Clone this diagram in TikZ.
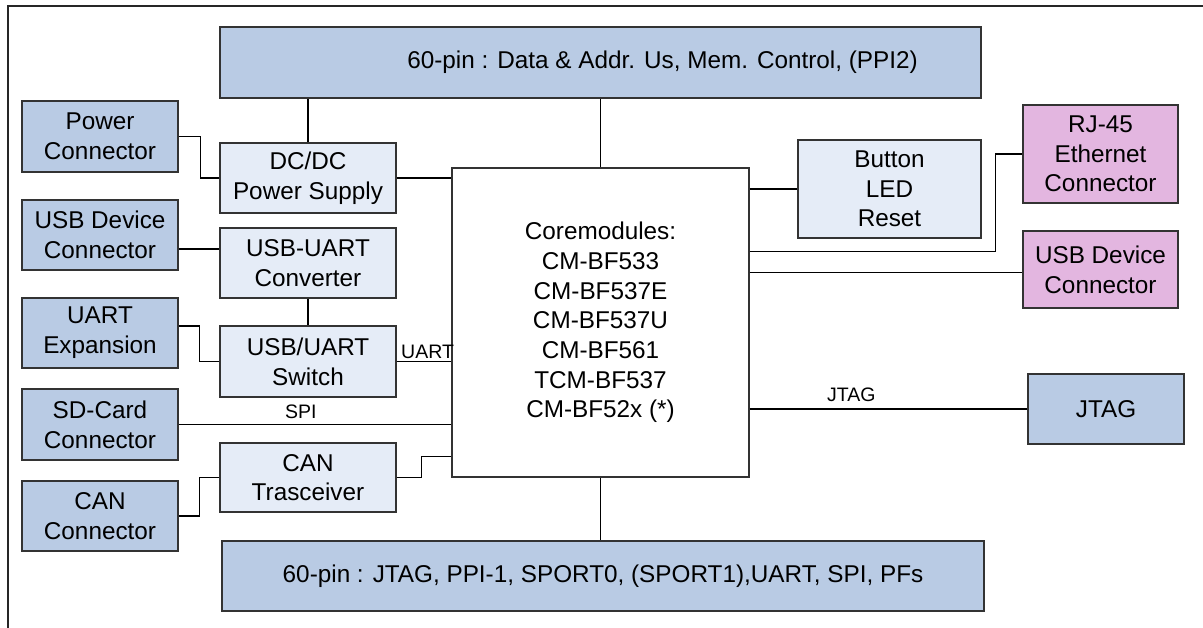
\documentclass[tikz,border=0pt]{standalone}
\usepackage{fontspec}
\setmainfont{Liberation Sans}
\usetikzlibrary{calc}
\definecolor{bluefill}{HTML}{B9CBE4}
\definecolor{lightfill}{HTML}{E5ECF7}
\definecolor{pinkfill}{HTML}{E3B6E0}
\definecolor{boxline}{HTML}{333333}
\begin{document}
\begin{tikzpicture}[x=1pt,y=-1pt,
  box/.style={draw=boxline,line width=1.3pt,rectangle,inner sep=0pt,align=center,
    font=\fontsize{24.3}{29.7}\selectfont},
  bluebox/.style={box,fill=bluefill},
  lightbox/.style={box,fill=lightfill},
  pinkbox/.style={box,fill=pinkfill},
  corebox/.style={box,fill=white},
  wire/.style={draw=black,line width=1.6pt},
  small/.style={inner sep=0pt,font=\fontsize{19.5}{23}\selectfont}]
\useasboundingbox (0,0) rectangle (1203,628);
\draw[line width=1.5pt,draw=black!85] (8,628) -- (8,6) -- (1203,6);

\node[bluebox,minimum width=761pt,minimum height=71pt,
  label={[box,draw=none,fill=none,xshift=62pt]center:60-pin : Data \& Addr. Us, Mem. Control, (PPI2)}]
  (top) at (600.5,62.5) {};
\node[bluebox,minimum width=762pt,minimum height=70pt] (bot) at (603,576)
  {60-pin : JTAG, PPI-1, SPORT0, (SPORT1),UART, SPI, PFs};

\node[corebox,minimum width=297pt,minimum height=309pt] (core) at (600.5,322.5)
  {Coremodules:\\CM-BF533\\CM-BF537E\\CM-BF537U\\CM-BF561\\TCM-BF537\\CM-BF52x (*)};

\node[bluebox,minimum width=156pt,minimum height=71pt] (pwr) at (100,136.5) {Power\\Connector};
\node[lightbox,minimum width=176pt,minimum height=70pt] (dcdc) at (308,178) {DC/DC\\Power Supply};
\node[bluebox,minimum width=156pt,minimum height=70pt] (usbl) at (100,235) {USB Device\\Connector};
\node[lightbox,minimum width=176pt,minimum height=70pt] (conv) at (308,263) {USB-UART\\Converter};
\node[bluebox,minimum width=156pt,minimum height=70pt] (uartx) at (100,333) {UART\\Expansion};
\node[lightbox,minimum width=176pt,minimum height=71pt] (sw) at (308,361.5) {USB/UART\\Switch};
\node[bluebox,minimum width=156pt,minimum height=71pt] (sd) at (100,424.5) {SD-Card\\Connector};
\node[lightbox,minimum width=176pt,minimum height=69pt] (cant) at (308,477.5) {CAN\\Trasceiver};
\node[bluebox,minimum width=156pt,minimum height=70pt] (canc) at (100,516) {CAN\\Connector};

\node[lightbox,minimum width=183pt,minimum height=98pt] (btn) at (889.5,189) {Button\\LED\\Reset};
\node[pinkbox,minimum width=155pt,minimum height=98pt] (rj) at (1100.5,154) {RJ-45\\Ethernet\\Connector};
\node[pinkbox,minimum width=155pt,minimum height=77pt] (usbr) at (1100.5,269.5) {USB Device\\Connector};
\node[bluebox,minimum width=156pt,minimum height=70pt] (jtag) at (1106,409) {JTAG};

% vertical bus links
\draw[wire] (core.north) -- (core.north |- top.south);
\draw[wire] (core.south -| core.north) -- (core.north |- bot.north);
\draw[wire] (dcdc.north) -- (dcdc.north |- top.south);

% left side
\draw[wire] (dcdc.east) -- (dcdc.east -| core.west);
\draw[wire] (pwr.east) -- ++(22,0) |- (dcdc.west);
\coordinate (m1) at ($(usbl.east)!0.5!(conv.west)$);
\draw[wire] (m1 -| usbl.east) -- (m1 -| conv.west);
\draw[wire] (conv.south) -- (sw.north);
\draw[wire] ([yshift=7pt]uartx.east) -- ++(21,0) |- (sw.west);
\draw[wire] (sw.east) -- (sw.east -| core.west);
\node[small,anchor=base west] (luart) at (401,359) {UART};
\draw[wire] (sd.east) -- (sd.east -| core.west);
\node[small,anchor=base west] (lspi) at (285,418) {SPI};
\draw[wire] (cant.east) -- ++(25,0) |- ([yshift=21pt]core.south west);
\draw[wire] (canc.east) -- ++(21,0) |- (cant.west);

% right side
\draw[wire] (btn.west -| core.east) -- (btn.west);
\draw[wire] ([yshift=-84pt]core.north east) -| ([xshift=-27pt]rj.west) -- (rj.west);
\coordinate (m2) at ([yshift=-105pt]core.north east);
\draw[wire] (m2) -- (m2 -| usbr.west);
\draw[wire] (jtag.west -| core.east) -- (jtag.west);
\node[small,anchor=base west] (ljtag) at (827,402) {JTAG};
\end{tikzpicture}
\end{document}
